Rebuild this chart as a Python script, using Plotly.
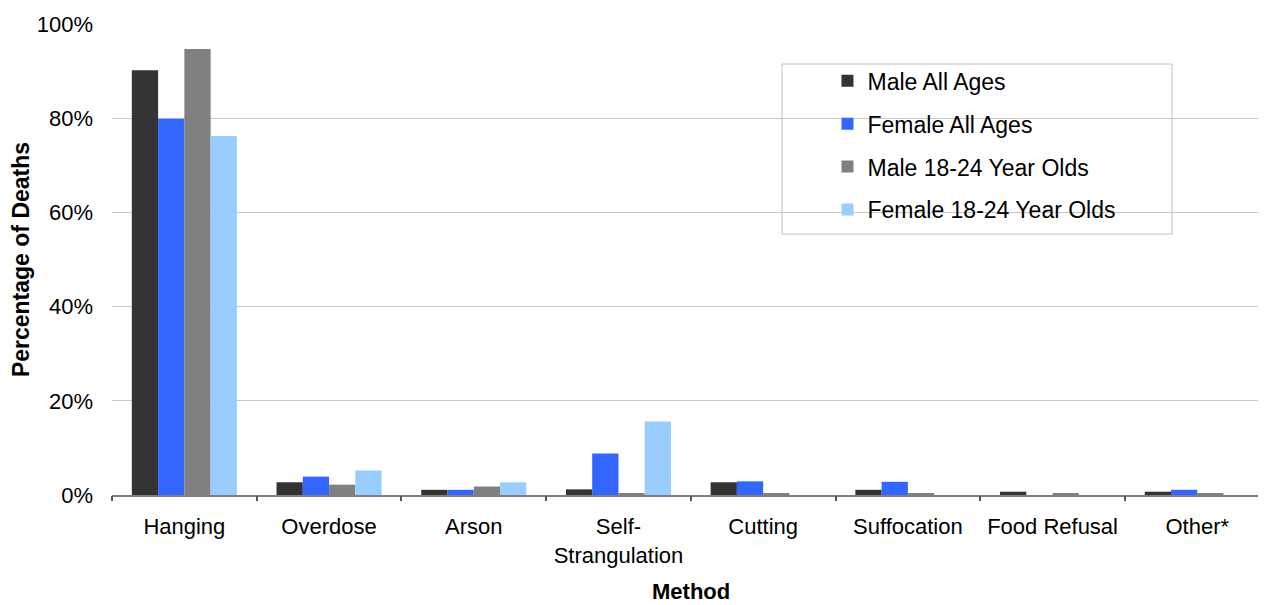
import plotly.graph_objects as go

methods = ["Hanging", "Overdose", "Arson", "Self-<br>Strangulation", "Cutting",
           "Suffocation", "Food Refusal", "Other*"]
male_all = [90.2, 2.7, 1.1, 1.2, 2.7, 1.1, 0.7, 0.7]
female_all = [79.9, 3.9, 1.1, 8.8, 2.9, 2.8, 0.0, 1.1]
male_18_24 = [94.7, 2.2, 1.8, 0.4, 0.4, 0.4, 0.3, 0.4]
female_18_24 = [76.2, 5.2, 2.7, 15.6, 0.0, 0.0, 0.0, 0.0]
boundaries = [i - 0.5 for i in range(len(methods) + 1)]

FONT = "Arial, Liberation Sans, sans-serif"
XRANGE = [-0.5, 7.475]

series = [
    ("Male All Ages", male_all, "#333333"),
    ("Female All Ages", female_all, "#3366FF"),
    ("Male 18-24 Year Olds", male_18_24, "#808080"),
    ("Female 18-24 Year Olds", female_18_24, "#99CCFF"),
]

fig = go.Figure()
for i, (name, vals, color) in enumerate(series):
    fig.add_trace(go.Bar(
        x=methods, y=vals, name=name, legendgroup=str(i),
        marker=dict(color=color, line=dict(width=0)),
        hovertemplate="%{x}: %{y:.1f}%<extra>" + name + "</extra>",
    ))

# invisible trace on overlay axis to draw ticks at category boundaries
fig.add_trace(go.Scatter(x=boundaries, y=[0] * len(boundaries), xaxis="x2",
                         mode="markers", marker=dict(opacity=0), showlegend=False,
                         hoverinfo="skip"))

fig.update_layout(
    width=1266, height=605,
    barmode="group", bargap=0.274, bargroupgap=0,
    paper_bgcolor="white", plot_bgcolor="white",
    font=dict(family=FONT, size=22, color="#000000"),
    margin=dict(l=104, r=8, t=16, b=118),
    xaxis=dict(
        range=XRANGE, showgrid=False, showline=True, linecolor="#808080",
        linewidth=2, ticks="", tickfont=dict(size=22), automargin=False,
        ticklabelstandoff=11,
    ),
    xaxis2=dict(
        overlaying="x", range=XRANGE, tickvals=boundaries, ticktext=[""] * len(boundaries),
        ticks="outside", ticklen=5, tickwidth=2, tickcolor="#555555", showgrid=False,
        showline=False, zeroline=False, side="bottom", anchor="y", automargin=False,
    ),
    yaxis=dict(
        range=[0, 100], dtick=20, ticksuffix="%", showgrid=True, gridcolor="#c8c8c8",
        gridwidth=1, zeroline=False, showline=False, ticks="",
        tickfont=dict(size=22), automargin=False, ticklabelstandoff=18,
        title=dict(text="<b>Percentage of Deaths</b>", font=dict(size=23), standoff=15),
    ),
    legend=dict(
        x=0.620, y=0.925, xanchor="left", yanchor="top",
        bgcolor="rgba(0,0,0,0)", borderwidth=0,
        font=dict(size=23), traceorder="grouped", tracegroupgap=10,
    ),
    shapes=[dict(type="rect", xref="paper", yref="paper",
                 x0=(782 - 112) / 1154, x1=(1172 - 112) / 1154,
                 y0=(495 - 234) / 471, y1=(495 - 64) / 471,
                 line=dict(color="#c0c0c0", width=1), fillcolor="white", layer="below")],
    annotations=[dict(text="<b>Method</b>", xref="paper", yref="paper",
                      x=0.502, y=-0.2335, xanchor="center", yanchor="bottom",
                      borderpad=0, showarrow=False, font=dict(size=22))],
)

fig.write_html("out.html")
